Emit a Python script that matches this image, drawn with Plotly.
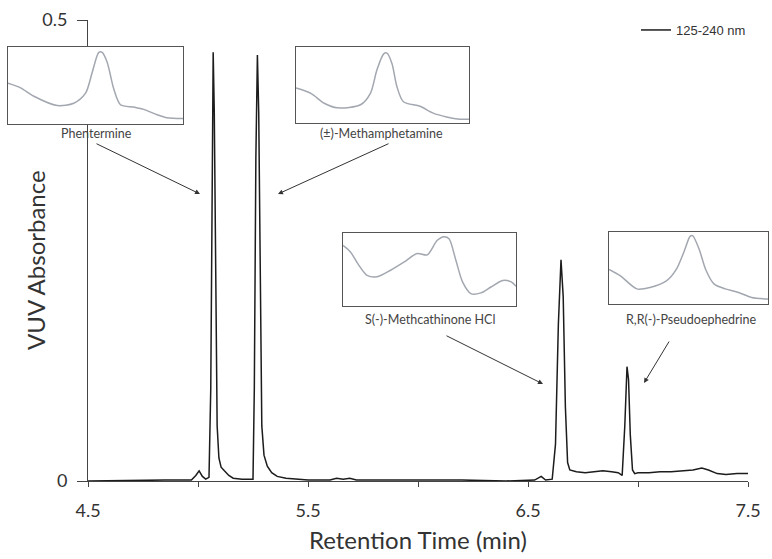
import plotly.graph_objects as go

# ---- main chromatogram ----
chrom_time = [4.50, 4.70, 4.85, 4.97, 4.99, 5.005, 5.02, 5.035, 5.050, 5.058, 5.064, 5.069, 5.074,
              5.080, 5.087, 5.095, 5.105, 5.120, 5.140, 5.160, 5.200, 5.250, 5.256, 5.263, 5.270,
              5.276, 5.283, 5.290, 5.300, 5.315, 5.335, 5.360, 5.400, 5.500, 5.600, 5.630, 5.660,
              5.690, 5.720, 5.850, 6.000, 6.200, 6.400, 6.530, 6.560, 6.580, 6.610, 6.625, 6.638,
              6.650, 6.660, 6.670, 6.680, 6.690, 6.720, 6.760, 6.800, 6.840, 6.880, 6.910, 6.928,
              6.940, 6.950, 6.957, 6.965, 6.975, 6.985, 7.000, 7.050, 7.100, 7.150, 7.200, 7.250,
              7.290, 7.320, 7.360, 7.400, 7.450, 7.500]
chrom_abs = [0.000, 0.001, 0.001, 0.001, 0.006, 0.011, 0.005, 0.002, 0.004, 0.100, 0.350, 0.465, 0.400,
             0.200, 0.060, 0.025, 0.015, 0.011, 0.006, 0.003, 0.002, 0.002, 0.100, 0.350, 0.462,
             0.400, 0.200, 0.060, 0.028, 0.016, 0.009, 0.005, 0.003, 0.001, 0.001, 0.003, 0.002,
             0.003, 0.001, 0.001, 0.001, 0.001, 0.000, 0.001, 0.005, 0.001, 0.002, 0.040, 0.170,
             0.240, 0.200, 0.080, 0.020, 0.012, 0.010, 0.009, 0.010, 0.011, 0.010, 0.009, 0.006,
             0.060, 0.124, 0.110, 0.050, 0.012, 0.008, 0.009, 0.009, 0.010, 0.010, 0.011, 0.012,
             0.014, 0.012, 0.008, 0.007, 0.008, 0.008]

x_tickvals = [4.5, 5.0, 5.5, 6.0, 6.5, 7.0, 7.5]
x_ticktext = ["4.5", "", "5.5", "", "6.5", "", "7.5"]
y_tickvals = [0, 0.5]
y_ticktext = ["0", "0.5"]

# ---- inset VUV spectra (normalised) ----
phen_x = [0, 0.072, 0.148, 0.281, 0.376, 0.443, 0.481, 0.519, 0.538, 0.567, 0.605, 0.643, 0.719, 0.776, 0.852, 0.909, 1.0]
phen_y = [0.53, 0.47, 0.36, 0.24, 0.27, 0.40, 0.67, 0.93, 0.93, 0.80, 0.45, 0.25, 0.22, 0.19, 0.12, 0.08, 0.07]

meth_x = [0, 0.086, 0.163, 0.239, 0.373, 0.430, 0.468, 0.507, 0.526, 0.555, 0.583, 0.621, 0.717, 0.793, 0.870, 0.946, 1.0]
meth_y = [0.46, 0.39, 0.26, 0.20, 0.24, 0.39, 0.70, 0.91, 0.92, 0.78, 0.48, 0.28, 0.22, 0.13, 0.08, 0.05, 0.05]

cath_x = [0, 0.043, 0.091, 0.139, 0.197, 0.275, 0.352, 0.429, 0.487, 0.545, 0.584, 0.613, 0.652, 0.691, 0.739, 0.797, 0.855, 0.923, 0.972, 1.0]
cath_y = [0.83, 0.74, 0.56, 0.42, 0.40, 0.49, 0.60, 0.72, 0.70, 0.90, 0.95, 0.92, 0.63, 0.33, 0.17, 0.18, 0.26, 0.35, 0.33, 0.27]

pseu_x = [0, 0.072, 0.175, 0.258, 0.361, 0.423, 0.474, 0.510, 0.526, 0.567, 0.608, 0.660, 0.732, 0.814, 0.897, 1.0]
pseu_y = [0.48, 0.39, 0.21, 0.23, 0.32, 0.48, 0.74, 0.94, 0.95, 0.76, 0.48, 0.28, 0.21, 0.16, 0.09, 0.07]

inset_labels = ["Phentermine", "(±)-Methamphetamine", "S(-)-Methcathinone HCl", "R,R(-)-Pseudoephedrine"]

W, H = 772, 559


def px(xp):
    return xp / W


def py(yp):
    return 1 - yp / H


fig = go.Figure()
fig.add_trace(go.Scatter(x=chrom_time, y=chrom_abs, mode="lines", name="125-240 nm",
                         line=dict(color="#1c1c1c", width=1.5), showlegend=True))

spectra = [(phen_x, phen_y), (meth_x, meth_y), (cath_x, cath_y), (pseu_x, pseu_y)]
# inset box pixel extents (left, right, top, bottom)
boxes = [(8, 183, 47, 124), (296, 469, 47, 123), (343, 516, 233, 306), (609, 768, 232, 304)]
for i, ((sx, sy), (l, r, t, b)) in enumerate(zip(spectra, boxes)):
    n = i + 2
    fig.add_trace(go.Scatter(x=sx, y=sy, mode="lines", xaxis=f"x{n}", yaxis=f"y{n}",
                             line=dict(color="#a3a7b0", width=1.5, shape="spline", smoothing=0.8),
                             showlegend=False, hoverinfo="skip"))
    ax_common = dict(showline=True, mirror=True, linecolor="#555555", linewidth=1,
                     showticklabels=False, ticks="", showgrid=False, zeroline=False,
                     fixedrange=True)
    fig.layout[f"xaxis{n}"] = dict(domain=[px(l), px(r)], range=[0, 1], anchor=f"y{n}", **ax_common)
    fig.layout[f"yaxis{n}"] = dict(domain=[py(b), py(t)], range=[0, 1], anchor=f"x{n}", **ax_common)

# inset labels
label_pos = [(96, 133), (381, 133), (430, 319), (691, 319)]
for txt, (lx, ly) in zip(inset_labels, label_pos):
    fig.add_annotation(x=px(lx), y=py(ly), xref="paper", yref="paper", text=txt,
                       showarrow=False, font=dict(family="Lato", size=12.5, color="#444444"),
                       xanchor="center", yanchor="middle")

# y axis title placed as rotated text
fig.add_annotation(x=px(36), y=py(260), xref="paper", yref="paper", text="VUV Absorbance",
                   textangle=-90, showarrow=False, xanchor="center", yanchor="middle",
                   font=dict(family="Lato", size=24, color="#333333"))

# arrows pointing to peaks (head in data coords, tail offset in pixels)
arrows = [((200, 194), (95, 143)), ((278, 194), (390, 143)),
          ((543, 384), (445, 335)), ((644, 383), (670, 340))]
for (hx, hy), (tx, ty) in arrows:
    fig.add_annotation(x=4.5 + (hx - 88) / 220, y=(481 - hy) / 922, xref="x", yref="y",
                       ax=tx - hx, ay=ty - hy, axref="pixel", ayref="pixel", text="",
                       showarrow=True, arrowhead=2, arrowsize=1, arrowwidth=1,
                       arrowcolor="#333333")

fig.update_layout(
    width=W, height=H,
    margin=dict(l=0, r=0, t=0, b=0),
    paper_bgcolor="white", plot_bgcolor="white",
    font=dict(family="Lato", color="#333333"),
    xaxis=dict(domain=[px(88), px(748)], range=[4.5, 7.5], anchor="y",
               tickvals=x_tickvals, ticktext=x_ticktext, ticks="outside", ticklen=5,
               tickcolor="#444444", showline=True, linecolor="#444444", linewidth=1,
               showgrid=False, zeroline=False, automargin=False,
               tickfont=dict(family="Lato", size=18, color="#333333"), ticklabelstandoff=8,
               title=dict(text="Retention Time (min)", font=dict(family="Lato", size=24, color="#333333"),
                          standoff=12)),
    yaxis=dict(domain=[py(481), py(20)], range=[0, 0.5], anchor="x",
               tickvals=y_tickvals, ticktext=y_ticktext, ticks="outside", ticklen=10,
               tickcolor="#444444", showline=True, linecolor="#444444", linewidth=1,
               showgrid=False, zeroline=False, automargin=False,
               tickfont=dict(family="Lato", size=18, color="#333333"), ticklabelstandoff=6),
    legend=dict(x=px(636), y=py(30), xanchor="left", yanchor="middle",
                bgcolor="rgba(0,0,0,0)", font=dict(family="Liberation Sans", size=13, color="#333333"),
                itemwidth=30),
)

fig.write_html("out.html")
